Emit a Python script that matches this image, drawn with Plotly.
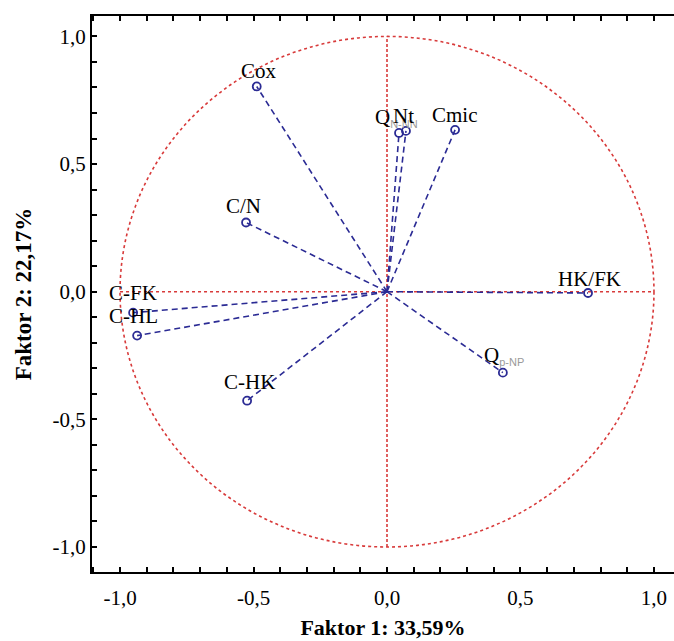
import plotly.graph_objects as go

# Variable loadings (Faktor 1, Faktor 2)
names = ["Cox", "Q_N-NN", "Nt", "Cmic", "C/N", "HK/FK", "Q_p-NP", "C-HK", "C-FK", "C-HL"]
f1 = [-0.488, 0.045, 0.071, 0.255, -0.528, 0.753, 0.434, -0.524, -0.951, -0.936]
f2 = [0.804, 0.622, 0.630, 0.634, 0.271, -0.005, -0.317, -0.427, -0.082, -0.172]

sub = "<sub><span style='color:#9a9a9a;font-family:Liberation Sans, Arial, sans-serif;font-size:11px'>%s</span></sub>"
label_text = ["Cox", "Q" + sub % "N-NN", "Nt", "Cmic", "C/N",
              "HK/FK", "Q" + sub % "p-NP", "C-HK", "C-FK", "C-HL"]
# label placement (pixel offsets from the point, anchor)
label_dx = [2, -26, -2, 0, -3, 1, -21, 2, -26, -30]
label_dy = [15, 15, 15, 15, 17, 14, 17, 19, 20, 20]
label_anchor = ["center", "left", "center", "center", "center", "center", "left", "center", "left", "left"]

x_tickvals = [-1.0, -0.5, 0.0, 0.5, 1.0]
x_ticktext = ["-1,0", "-0,5", "0,0", "0,5", "1,0"]
y_tickvals = [-1.0, -0.5, 0.0, 0.5, 1.0]
y_ticktext = ["-1,0", "-0,5", "0,0", "0,5", "1,0"]

navy = "#2b2b94"
red = "#d83a3a"
serif = "Liberation Serif, Times New Roman, serif"

fig = go.Figure()

for i in range(len(names)):
    fig.add_trace(go.Scatter(
        x=[0, f1[i]], y=[0, f2[i]], mode="lines",
        line=dict(color=navy, width=1.6, dash="6px,4px"),
        hoverinfo="skip", showlegend=False))

fig.add_trace(go.Scatter(
    x=f1, y=f2, mode="markers",
    marker=dict(symbol="circle-open", size=8, color=navy, line=dict(width=1.8, color=navy)),
    showlegend=False, text=names))

shapes = [
    dict(type="circle", xref="x", yref="y", x0=-1, x1=1, y0=-1, y1=1,
         line=dict(color=red, width=1.6, dash="dot"), layer="below"),
    dict(type="line", xref="x", yref="y", x0=-1, x1=1, y0=0, y1=0,
         line=dict(color=red, width=1.6, dash="dot"), layer="below"),
    dict(type="line", xref="x", yref="y", x0=0, x1=0, y0=-1, y1=1,
         line=dict(color=red, width=1.6, dash="3px,2px"), layer="below"),
]

annotations = []
for i in range(len(names)):
    annotations.append(dict(
        x=f1[i], y=f2[i], xref="x", yref="y", text=label_text[i], showarrow=False,
        xshift=label_dx[i], yshift=label_dy[i], xanchor=label_anchor[i], yanchor="middle",
        font=dict(family=serif, size=21, color="black")))

fig.update_layout(
    width=674, height=641,
    margin=dict(l=92, r=0, t=16, b=69),
    paper_bgcolor="white", plot_bgcolor="white",
    shapes=shapes, annotations=annotations,
    font=dict(family=serif, size=20, color="black"),
    xaxis=dict(
        range=[-1.105, 1.075], showgrid=False, zeroline=False,
        showline=True, linecolor="black", linewidth=2, mirror="allticks",
        tickvals=x_tickvals, ticktext=x_ticktext,
        ticks="inside", ticklen=5, tickwidth=1.5, tickcolor="black",
        minor=dict(dtick=0.1, tick0=0, ticks="inside", ticklen=5, tickwidth=1.5, tickcolor="black"),
        tickfont=dict(family=serif, size=21),
        ticklabelstandoff=6,
        title=dict(text="<b>Faktor 1: 33,59%</b>", font=dict(family=serif, size=22), standoff=10),
    ),
    yaxis=dict(
        range=[-1.098, 1.08], showgrid=False, zeroline=False,
        showline=True, linecolor="black", linewidth=2, mirror=False,
        tickvals=y_tickvals, ticktext=y_ticktext,
        ticks="inside", ticklen=5, tickwidth=1.5, tickcolor="black",
        minor=dict(dtick=0.1, tick0=0, ticks="inside", ticklen=5, tickwidth=1.5, tickcolor="black"),
        tickfont=dict(family=serif, size=21),
        title=dict(text="<b>Faktor 2: 22,17%</b>", font=dict(family=serif, size=23), standoff=14),
    ),
)

fig.write_html("out.html")
